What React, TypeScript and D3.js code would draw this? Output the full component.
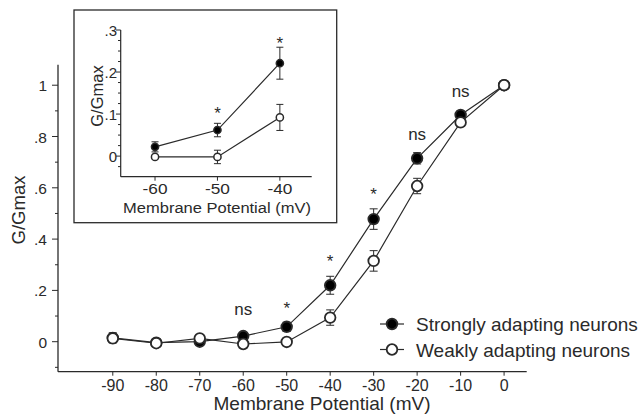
import { useEffect, useRef } from 'react'
import * as d3 from 'd3'

// main panel
const voltages = [-90, -80, -70, -60, -50, -40, -30, -20, -10, 0]
const strongMean = [0.015, -0.004, 0.0, 0.022, 0.058, 0.22, 0.478, 0.715, 0.884, 1.0]
const strongErr = [0.02, 0.01, 0.01, 0.012, 0.018, 0.035, 0.04, 0.022, 0.015, 0.005]
const weakMean = [0.013, -0.006, 0.013, -0.009, -0.001, 0.094, 0.315, 0.607, 0.855, 1.0]
const weakErr = [0.015, 0.01, 0.01, 0.01, 0.01, 0.03, 0.04, 0.03, 0.015, 0.005]
const mainAnno = [
  { v: -60, y: 0.124, t: 'ns' },
  { v: -50, y: 0.152, t: '*' },
  { v: -40, y: 0.334, t: '*' },
  { v: -30, y: 0.595, t: '*' },
  { v: -20, y: 0.806, t: 'ns' },
  { v: -10, y: 0.973, t: 'ns' },
]
const mainYTicks = [0, 0.2, 0.4, 0.6, 0.8, 1]
const mainXTicks = [-90, -80, -70, -60, -50, -40, -30, -20, -10, 0]

// inset panel
const insetVoltages = [-60, -50, -40]
const insetStrong = [0.022, 0.062, 0.221]
const insetStrongErr = [0.012, 0.016, 0.038]
const insetWeak = [-0.002, -0.002, 0.092]
const insetWeakErr = [0.004, 0.016, 0.031]
const insetAnno = [
  { v: -50, y: 0.114, t: '*' },
  { v: -40, y: 0.281, t: '*' },
]
const insetYTicks = [0, 0.1, 0.2, 0.3]

const legendItems = [
  { label: 'Strongly adapting neurons', filled: true },
  { label: 'Weakly adapting neurons', filled: false },
]

const FONT = '"Liberation Sans", Arial, sans-serif'
const INK = '#2a2a2a'
const fmt = (d: number) => (d === 0 ? '0' : d === 1 ? '1' : d3.format('.1f')(d).replace(/^0/, ''))

type G = d3.Selection<SVGGElement, unknown, null, undefined>

// text with optional horizontal stretch (the source figure's type is a bit wide)
const label = (g: G, x: number, y: number, s: string, size: number, anchor = 'middle', sx = 1) =>
  g.append('text')
    .attr('transform', `translate(${x},${y}) scale(${sx},1)`)
    .attr('text-anchor', anchor).attr('font-size', size)
    .attr('fill', INK).attr('font-family', FONT).text(s)

export default function App() {
  const svgRef = useRef<SVGSVGElement>(null)

  useEffect(() => {
    const svg = d3.select(svgRef.current)
    svg.selectAll('*').remove()

    const drawPanel = (
      g: G,
      x: d3.ScaleLinear<number, number>,
      y: d3.ScaleLinear<number, number>,
      vs: number[],
      series: { mean: number[]; err: number[]; filled: boolean }[],
      r: number,
      cap: number,
      sw: number,
    ) => {
      series.forEach((s) => {
        const pts = vs.map((v, i) => [v, s.mean[i]] as [number, number])
        g.append('path')
          .datum(pts)
          .attr('fill', 'none').attr('stroke', INK).attr('stroke-width', 1.2)
          .attr('d', d3.line().x((d) => x(d[0])).y((d) => y(d[1])))
      })
      series.forEach((s) => {
        vs.forEach((v, i) => {
          const cx = x(v)
          const lo = y(s.mean[i] - s.err[i])
          const hi = y(s.mean[i] + s.err[i])
          g.append('line').attr('x1', cx).attr('x2', cx).attr('y1', lo).attr('y2', hi)
            .attr('stroke', INK).attr('stroke-width', 1)
          ;[lo, hi].forEach((yy) => {
            g.append('line').attr('x1', cx - cap).attr('x2', cx + cap).attr('y1', yy).attr('y2', yy)
              .attr('stroke', INK).attr('stroke-width', 1)
          })
          g.append('circle').attr('cx', cx).attr('cy', y(s.mean[i])).attr('r', r)
            .attr('fill', s.filled ? '#000' : '#fff').attr('stroke', INK).attr('stroke-width', sw)
        })
      })
    }

    // ---- main chart
    const x = d3.scaleLinear().domain([-102.6, 5.2]).range([58, 526.7])
    const y = d3.scaleLinear().domain([-0.117, 1.08]).range([371.7, 64.7])
    const g = svg.append('g') as G

    g.append('line').attr('x1', 58).attr('x2', 58).attr('y1', y(1.08)).attr('y2', y(-0.117))
      .attr('stroke', INK).attr('stroke-width', 1.3)
    g.append('line').attr('x1', 58).attr('x2', 526.7).attr('y1', 371.7).attr('y2', 371.7)
      .attr('stroke', INK).attr('stroke-width', 1.3)
    d3.range(-0.1, 1.05, 0.1).forEach((t) => {
      const major = mainYTicks.some((m) => Math.abs(m - t) < 1e-6)
      g.append('line').attr('x1', 58).attr('x2', major ? 52 : 55).attr('y1', y(t)).attr('y2', y(t))
        .attr('stroke', INK).attr('stroke-width', 1)
    })
    mainYTicks.forEach((t) => label(g, 47, y(t) + 6, fmt(t), 15.5, 'end'))
    mainXTicks.forEach((t) => {
      g.append('line').attr('x1', x(t)).attr('x2', x(t)).attr('y1', 371.7).attr('y2', 375.7)
        .attr('stroke', INK).attr('stroke-width', 1)
      label(g, x(t), 391, String(t), 16)
    })
    label(g, 322, 410, 'Membrane Potential (mV)', 18, 'middle', 1.06)
    g.append('text').attr('transform', 'translate(25,210) rotate(-90)').attr('text-anchor', 'middle')
      .attr('font-size', 18.5).attr('fill', INK).attr('font-family', FONT).text('G/Gmax')

    drawPanel(g, x, y, voltages, [
      { mean: strongMean, err: strongErr, filled: true },
      { mean: weakMean, err: weakErr, filled: false },
    ], 5.3, 4, 1.8)

    mainAnno.forEach((a) => {
      const star = a.t === '*'
      label(g, x(a.v), y(a.y) + (star ? 11 : 5), a.t, 17)
    })

    legendItems.forEach((it, i) => {
      const ly = 324 + i * 25.5
      g.append('line').attr('x1', 380).attr('x2', 404).attr('y1', ly).attr('y2', ly)
        .attr('stroke', INK).attr('stroke-width', 1.2)
      g.append('circle').attr('cx', 392).attr('cy', ly).attr('r', 5.3)
        .attr('fill', it.filled ? '#000' : '#fff').attr('stroke', INK).attr('stroke-width', 1.8)
      label(g, 416, ly + 7, it.label, 19, 'start')
    })

    // ---- inset
    const ig = svg.append('g') as G
    ig.append('rect').attr('x', 74).attr('y', 10).attr('width', 262.7).attr('height', 212.7)
      .attr('fill', '#fff').attr('stroke', INK).attr('stroke-width', 1.3)
    const ix = d3.scaleLinear().domain([-65.5, -34.9]).range([120.7, 311.7])
    const iy = d3.scaleLinear().domain([-0.049, 0.3]).range([176.7, 30])
    ig.append('line').attr('x1', 120.7).attr('x2', 120.7).attr('y1', iy(0.3)).attr('y2', 176.7)
      .attr('stroke', INK).attr('stroke-width', 1.2)
    ig.append('line').attr('x1', 120.7).attr('x2', 311.7).attr('y1', 176.7).attr('y2', 176.7)
      .attr('stroke', INK).attr('stroke-width', 1.2)
    d3.range(-0.025, 0.31, 0.025).forEach((t) => {
      const major = insetYTicks.some((m) => Math.abs(m - t) < 1e-6)
      ig.append('line').attr('x1', 120.7).attr('x2', major ? 116 : 118).attr('y1', iy(t)).attr('y2', iy(t))
        .attr('stroke', INK).attr('stroke-width', 1)
    })
    insetYTicks.forEach((t) => label(ig, 117, iy(t) + 5.5, fmt(t), 15, 'end'))
    insetVoltages.forEach((t) => {
      ig.append('line').attr('x1', ix(t)).attr('x2', ix(t)).attr('y1', 176.7).attr('y2', 180.7)
        .attr('stroke', INK).attr('stroke-width', 1)
      label(ig, ix(t), 194, String(t), 15, 'middle', 1.15)
    })
    label(ig, 217, 213, 'Membrane Potential (mV)', 15, 'middle', 1.1)
    ig.append('text').attr('transform', 'translate(102.5,96) rotate(-90)').attr('text-anchor', 'middle')
      .attr('font-size', 16.5).attr('fill', INK).attr('font-family', FONT).text('G/Gmax')

    drawPanel(ig, ix, iy, insetVoltages, [
      { mean: insetStrong, err: insetStrongErr, filled: true },
      { mean: insetWeak, err: insetWeakErr, filled: false },
    ], 3.6, 3.5, 1.5)

    insetAnno.forEach((a) => label(ig, ix(a.v), iy(a.y) + 11, a.t, 17))
  }, [])

  return (
    <svg ref={svgRef} width={639} height={416}
      style={{ position: 'absolute', left: 0, top: 0, background: '#fff' }} />
  )
}
